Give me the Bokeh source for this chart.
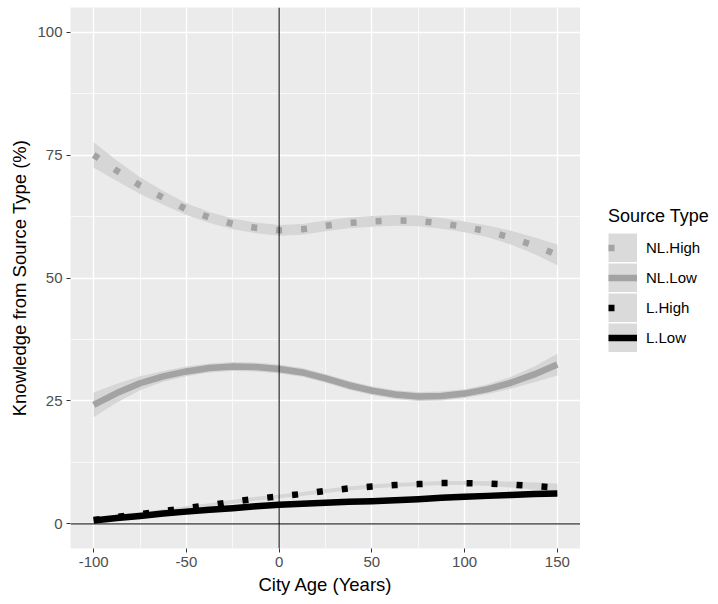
from bokeh.plotting import figure
from bokeh.layouts import row
from bokeh.models import ColumnDataSource, Range1d, FixedTicker, Span, Legend, LegendItem
from bokeh.embed import file_html
from bokeh.resources import INLINE

# ---- data ----
city_age = [-100, -87.5, -75, -62.5, -50, -37.5, -25, -12.5, 0, 12.5, 25,
            37.5, 50, 62.5, 75, 87.5, 100, 112.5, 125, 137.5, 150]

nl_high = [75.0, 71.8, 68.8, 66.3, 64.0, 62.3, 61.0, 60.2, 59.7, 59.9, 60.6,
           61.2, 61.5, 61.7, 61.6, 61.1, 60.4, 59.5, 58.2, 56.6, 54.7]
nl_high_se = [2.6, 2.1, 1.7, 1.4, 1.2, 1.1, 1.1, 1.1, 1.1, 1.1, 1.1,
              1.1, 1.1, 1.1, 1.1, 1.1, 1.1, 1.2, 1.4, 1.7, 2.1]

nl_low = [24.2, 26.6, 28.6, 30.0, 31.0, 31.7, 32.0, 31.9, 31.5, 30.8, 29.6,
          28.2, 27.1, 26.3, 25.9, 26.0, 26.5, 27.4, 28.7, 30.4, 32.4]
nl_low_se = [2.5, 1.9, 1.4, 1.1, 1.0, 0.9, 0.9, 0.9, 0.9, 0.9, 0.9,
             0.9, 0.9, 0.9, 0.9, 0.9, 0.9, 1.0, 1.2, 1.6, 2.2]

l_high = [0.8, 1.4, 2.0, 2.6, 3.2, 3.8, 4.5, 5.1, 5.6, 6.1, 6.7,
          7.2, 7.6, 7.9, 8.1, 8.3, 8.3, 8.2, 8.0, 7.7, 7.4]
l_high_se = [0.6, 0.5, 0.4, 0.4, 0.4, 0.4, 0.4, 0.4, 0.4, 0.4, 0.4,
             0.4, 0.4, 0.4, 0.4, 0.4, 0.4, 0.5, 0.6, 0.7, 0.8]

l_low = [0.7, 1.2, 1.6, 2.1, 2.5, 2.9, 3.2, 3.6, 3.9, 4.1, 4.3,
         4.5, 4.6, 4.8, 5.0, 5.3, 5.5, 5.7, 5.9, 6.1, 6.2]
l_low_se = [0.4, 0.3, 0.3, 0.3, 0.3, 0.3, 0.3, 0.3, 0.3, 0.3, 0.3,
            0.3, 0.3, 0.3, 0.3, 0.3, 0.3, 0.3, 0.3, 0.4, 0.5]

series_names = ["NL.High", "NL.Low", "L.High", "L.Low"]
x_ticks = [-100, -50, 0, 50, 100, 150]
x_tick_labels = ["-100", "-50", "0", "50", "100", "150"]
x_minor = [-75, -25, 25, 75, 125]
y_ticks = [0, 25, 50, 75, 100]
y_minor = [12.5, 37.5, 62.5, 87.5]

FONT = "Liberation Sans"
GREY_LINE = "#a3a3a3"
RIBBON = "#d6d6d6"
KEY_BG = "#dadada"
H = 600

p = figure(width=580, height=H, output_backend="svg", toolbar_location=None,
           x_range=Range1d(-112.5, 162.5), y_range=Range1d(-5, 105),
           min_border_left=70, min_border_right=0, min_border_top=7,
           min_border_bottom=52)
p.background_fill_color = "#ebebeb"
p.border_fill_color = "white"
p.outline_line_color = None

p.xaxis.ticker = FixedTicker(ticks=x_ticks, minor_ticks=x_minor)
p.yaxis.ticker = FixedTicker(ticks=y_ticks, minor_ticks=y_minor)
p.xgrid.ticker = FixedTicker(ticks=x_ticks, minor_ticks=x_minor)
p.ygrid.ticker = FixedTicker(ticks=y_ticks, minor_ticks=y_minor)
p.xaxis.major_label_overrides = {t: s for t, s in zip(x_ticks, x_tick_labels)}
for g in (p.xgrid, p.ygrid):
    g.grid_line_color = "white"
    g.grid_line_width = 1.4
    g.minor_grid_line_color = "white"
    g.minor_grid_line_width = 0.7

for ax in (p.xaxis, p.yaxis):
    ax.axis_line_color = None
    ax.minor_tick_line_color = None
    ax.major_tick_line_color = "#333333"
    ax.major_tick_line_width = 1
    ax.major_tick_out = 4
    ax.major_tick_in = 0
    ax.major_label_text_font = FONT
    ax.major_label_text_font_size = "15px"
    ax.major_label_text_color = "#4d4d4d"
    ax.major_label_standoff = 4
    ax.axis_label_text_font = FONT
    ax.axis_label_text_font_size = "18.5px"
    ax.axis_label_text_font_style = "normal"
    ax.axis_label_text_color = "black"
    ax.axis_label_standoff = 4
p.xaxis.axis_label = "City Age (Years)"
p.yaxis.axis_label = "Knowledge from Source Type (%)"

series = [
    (nl_high, nl_high_se, GREY_LINE, "6 19"),
    (nl_low, nl_low_se, GREY_LINE, None),
    (l_high, l_high_se, "black", "6 19"),
    (l_low, l_low_se, "black", None),
]

for vals, se, col, dash in series:
    src = ColumnDataSource(data=dict(
        x=city_age, y=vals,
        lo=[v - s for v, s in zip(vals, se)],
        hi=[v + s for v, s in zip(vals, se)]))
    p.varea(x="x", y1="lo", y2="hi", source=src, fill_color=RIBBON, fill_alpha=1)
    kw = dict(line_color=col, line_width=6.5, line_cap="butt", line_join="round")
    if dash:
        kw["line_dash"] = dash
    p.line(x="x", y="y", source=src, **kw)

p.add_layout(Span(location=0, dimension="height", line_color="black", line_width=1))
p.add_layout(Span(location=0, dimension="width", line_color="black", line_width=1))

# ---- legend panel (separate figure holding only the legend) ----
lg = figure(width=138, height=H, output_backend="svg", toolbar_location=None,
            x_range=Range1d(0, 1), y_range=Range1d(0, 1),
            x_axis_location=None, y_axis_location=None,
            min_border_left=0, min_border_right=0, min_border_top=0,
            min_border_bottom=0)
lg.outline_line_color = None
lg.grid.grid_line_color = None
lg.background_fill_color = "white"

nan = float("nan")
key_bg = lg.line(x=[nan], y=[nan], line_color=KEY_BG, line_width=29, line_cap="butt")
proxies = []
for vals, se, col, dash in series:
    kw = dict(line_color=col, line_width=6.5, line_cap="butt")
    if dash:
        kw["line_dash"] = "6 30"
    proxies.append(lg.line(x=[nan], y=[nan], **kw))

items = [LegendItem(label=name, renderers=[key_bg, r])
         for name, r in zip(series_names, proxies)]
legend = Legend(items=items, location=(28, 196), title="Source Type",
                padding=0, margin=0, spacing=1, glyph_width=29, glyph_height=29,
                label_standoff=9, label_text_font=FONT, label_text_font_size="15px",
                label_text_color="black", title_text_font=FONT,
                title_text_font_size="18px", title_text_font_style="normal",
                title_text_color="black", title_standoff=6,
                border_line_color=None, background_fill_alpha=0)
lg.add_layout(legend)

layout = row(p, lg, spacing=0)
open("out.html", "w").write(file_html(layout, INLINE))
